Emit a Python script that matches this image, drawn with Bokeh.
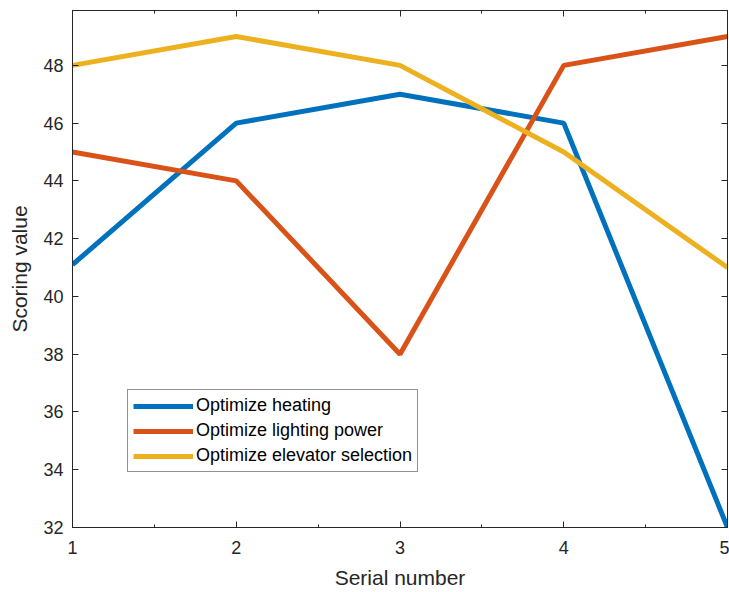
from bokeh.plotting import figure
from bokeh.models import LinearAxis, Range1d, Legend, LegendItem, FixedTicker, CustomJSTickFormatter
from bokeh.embed import file_html
from bokeh.resources import INLINE

serial = [1, 2, 3, 4, 5]
heating = [41.1, 46, 47, 46, 32]
lighting = [45, 44, 38, 48, 49]
elevator = [48, 49, 48, 45, 41]
names = ["Optimize heating", "Optimize lighting power", "Optimize elevator selection"]
colors = ["#0072BD", "#D95319", "#EDB120"]
yticks = [32, 34, 36, 38, 40, 42, 44, 46, 48]

p = figure(width=729, height=592, output_backend="svg", toolbar_location=None,
           x_range=Range1d(1, 5), y_range=Range1d(32, 49.9),
           min_border_left=72, min_border_right=2, min_border_top=10, min_border_bottom=65)
p.xgrid.visible = False
p.ygrid.visible = False
p.outline_line_color = "#262626"
p.outline_line_width = 1

font = "Liberation Sans"
tc = "#262626"

for ax in [p.xaxis[0], p.yaxis[0]]:
    ax.major_tick_in = 6
    ax.major_tick_out = 0
    ax.minor_tick_in = 3
    ax.minor_tick_out = 0
    ax.axis_line_color = tc
    ax.major_tick_line_color = tc
    ax.minor_tick_line_color = tc
    ax.major_label_text_font = font
    ax.major_label_text_font_size = "18px"
    ax.major_label_text_color = tc
    ax.axis_label_text_font = font
    ax.axis_label_text_font_size = "21px"
    ax.axis_label_text_font_style = "normal"
    ax.axis_label_text_color = tc

p.xaxis[0].ticker = FixedTicker(ticks=serial, minor_ticks=[1.5, 2.5, 3.5, 4.5])
p.yaxis[0].ticker = FixedTicker(ticks=yticks)
p.yaxis[0].minor_tick_line_color = None
p.xaxis[0].axis_label = "Serial number"
p.yaxis[0].axis_label = "Scoring value"
p.xaxis[0].major_label_standoff = 13
p.yaxis[0].major_label_standoff = 9
p.xaxis[0].axis_label_standoff = 9
p.yaxis[0].axis_label_standoff = 9

blank = CustomJSTickFormatter(code="return ''")
top = LinearAxis(ticker=FixedTicker(ticks=serial, minor_ticks=[1.5, 2.5, 3.5, 4.5]),
                 formatter=blank, major_tick_in=6, major_tick_out=0,
                 minor_tick_in=3, minor_tick_out=0, axis_line_color=tc,
                 major_tick_line_color=tc, minor_tick_line_color=tc)
right = LinearAxis(ticker=FixedTicker(ticks=yticks),
                   formatter=blank, major_tick_in=6, major_tick_out=0,
                   minor_tick_line_color=None, axis_line_color=tc,
                   major_tick_line_color=tc)
p.add_layout(top, "above")
p.add_layout(right, "right")

items = []
for ys, name, c in zip([heating, lighting, elevator], names, colors):
    r = p.line(serial, ys, line_color=c, line_width=5)
    items.append(LegendItem(label=name, renderers=[r]))

legend = Legend(items=items, location=(55, 55), glyph_width=60, glyph_height=20,
                label_height=20, spacing=4, padding=5, margin=0, label_standoff=3,
                label_text_font=font, label_text_font_size="18px", label_text_color="#000000",
                border_line_color="#262626", border_line_width=1,
                background_fill_color="white", background_fill_alpha=1)
p.add_layout(legend, "center")

open("out.html", "w").write(file_html(p, INLINE))
